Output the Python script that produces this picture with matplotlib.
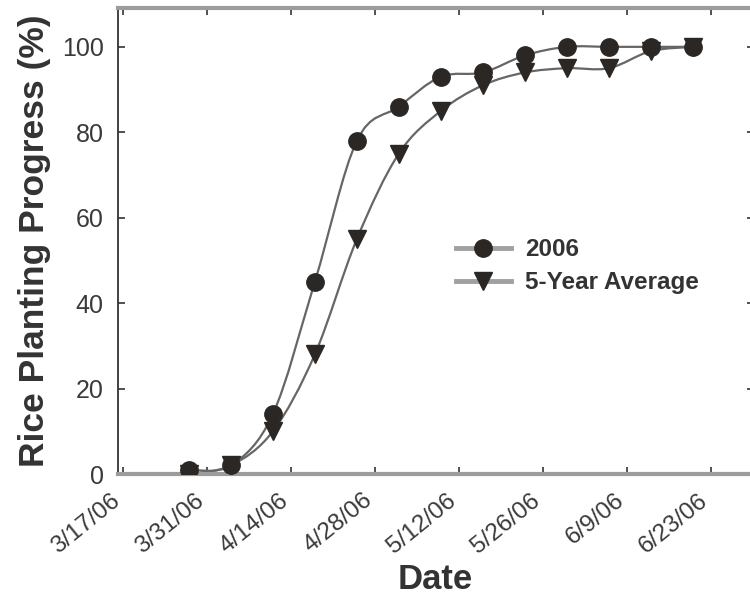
import numpy as np
import matplotlib
matplotlib.use('Agg')
import matplotlib.pyplot as plt
import matplotlib.dates as mdates
import matplotlib.transforms as mtransforms
from matplotlib.path import Path
from matplotlib.patches import PathPatch
import datetime as dt

plt.rcParams['font.family'] = ['Liberation Sans', 'DejaVu Sans']

# ---- data ----
dates = ['2006-03-28', '2006-04-04', '2006-04-11', '2006-04-18', '2006-04-25',
         '2006-05-02', '2006-05-09', '2006-05-16', '2006-05-23', '2006-05-30',
         '2006-06-06', '2006-06-13', '2006-06-20']
y2006 = [1, 2, 14, 45, 78, 86, 93, 94, 98, 100, 100, 100, 100]
yavg = [0, 2, 10, 28, 55, 75, 85, 91, 94, 95, 95, 99, 100]
tick_dates = ['2006-03-17', '2006-03-31', '2006-04-14', '2006-04-28',
              '2006-05-12', '2006-05-26', '2006-06-09', '2006-06-23']
tick_labels = ['3/17/06', '3/31/06', '4/14/06', '4/28/06',
               '5/12/06', '5/26/06', '6/9/06', '6/23/06']
series_names = ['2006', '5-Year Average']

x = mdates.date2num([dt.datetime.strptime(d, '%Y-%m-%d') for d in dates])
xt = mdates.date2num([dt.datetime.strptime(d, '%Y-%m-%d') for d in tick_dates])


def smooth_path(xs, ys, t=0.5):
    xs = np.asarray(xs, float); ys = np.asarray(ys, float)
    P = np.column_stack([xs, ys])
    n = len(P)
    verts = [P[0]]
    codes = [Path.MOVETO]
    for i in range(n - 1):
        p0 = P[i - 1] if i > 0 else P[i]
        p1 = P[i]
        p2 = P[i + 1]
        p3 = P[i + 2] if i + 2 < n else P[i + 1]
        c1 = p1 + (p2 - p0) * t / 3.0
        c2 = p2 - (p3 - p1) * t / 3.0
        verts += [c1, c2, p2]
        codes += [Path.CURVE4] * 3
    return Path(verts, codes)


fig = plt.figure(figsize=(7.5, 6), dpi=100)
ax = fig.add_axes([0.157, 0.21, 0.848, 0.776])

line_col = '#666666'
mk_col = '#2b2724'
for ys in (y2006, yavg):
    ax.add_patch(PathPatch(smooth_path(x, ys), fill=False, edgecolor=line_col,
                           lw=1.6, zorder=2))

ax.plot(x, y2006, linestyle='none', marker='o', ms=12.5, color=mk_col, zorder=3)
ax.plot(x, yavg, linestyle='none', marker='v', ms=12.5, color=mk_col, zorder=3)

# legend proxies
h1, = ax.plot([], [], color='#a0a0a0', lw=3.5, marker='o', ms=12.5, mfc=mk_col, mec=mk_col)
h2, = ax.plot([], [], color='#a0a0a0', lw=3.5, marker='v', ms=12.5, mfc=mk_col, mec=mk_col)
leg = ax.legend([h1, h2], series_names, loc='center left',
                bbox_to_anchor=(0.532, 0.446), frameon=False,
                prop={'weight': 'bold', 'size': 17.5}, handlelength=2.25,
                handletextpad=0.6, labelspacing=0.4, labelcolor='#333333',
                borderpad=0, borderaxespad=0)

x0 = xt[0] - 0.85
ax.set_xlim(x0, x0 + 106)
ax.set_ylim(0, 109)
ax.set_yticks([0, 20, 40, 60, 80, 100])
ax.set_yticklabels(['0', '20', '40', '60', '80', '100'], fontsize=18, color='#3a3a3a')

ax.tick_params(axis='both', direction='in', length=5, width=1.2, color='#333333',
               top=True, right=True)
ax.tick_params(axis='x', pad=11)
ax.tick_params(axis='y', pad=10)

ax.set_xticks(xt)
ax.set_xticklabels(tick_labels, rotation=39, ha='right', va='top',
                   rotation_mode='anchor', fontsize=17.5, color='#3a3a3a')
shift = mtransforms.ScaledTranslation(-9 / 72, 0, fig.dpi_scale_trans)
for lab in ax.get_xticklabels():
    lab.set_transform(lab.get_transform() + shift)

ax.spines['left'].set_color('#333333'); ax.spines['left'].set_linewidth(1.3)
ax.spines['bottom'].set_color('#9c9c9c'); ax.spines['bottom'].set_linewidth(3)
ax.spines['top'].set_color('#9c9c9c'); ax.spines['top'].set_linewidth(3)
ax.spines['right'].set_color('#9c9c9c')

ax.set_ylabel('Rice Planting Progress (%)', fontsize=25.5, fontweight='bold',
              color='#333333', labelpad=8)
ax.set_xlabel('Date', fontsize=25, fontweight='bold', color='#333333', labelpad=4)

fig.savefig('out.png', dpi=100)
